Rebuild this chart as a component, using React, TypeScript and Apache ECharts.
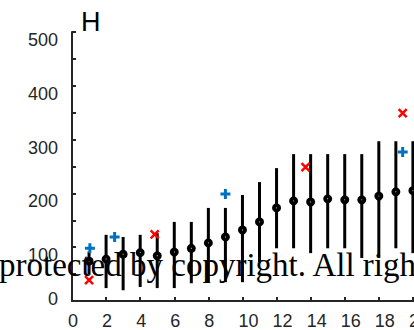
import React, { useEffect, useRef } from "react";
import * as echarts from "echarts";

const xValues = [1, 2, 3, 4, 5, 6, 7, 8, 9, 10, 11, 12, 13, 14, 15, 16, 17, 18, 19, 20];
const means = [74, 78, 87, 90, 84, 91, 98, 108, 119, 132, 147, 173, 186, 184, 190, 188, 188, 195, 203, 205];
const lows = [50, 24, 20, 26, 24, 24, 33, 35, 35, 35, 72, 98, 98, 89, 98, 98, 80, 80, 98, 89];
const highs = [92, 123, 119, 123, 126, 147, 147, 173, 173, 197, 221, 247, 273, 273, 273, 273, 273, 297, 297, 297];
const redPoints = [[1, 39], [4.85, 124], [13.7, 249], [19.4, 349]];
const bluePoints = [[1.05, 98], [2.5, 119], [9.0, 199], [19.4, 277]];
const title = "H";
const watermark = "protected by copyright. All rights reserved.";

const AXIS = "#262626";

export default function App() {
  const ref = useRef<HTMLDivElement>(null);
  useEffect(() => {
    if (!ref.current) return;
    const chart = echarts.init(ref.current, null, { renderer: "svg" });
    const errData = xValues.map((x, i) => [x, lows[i], highs[i]]);
    chart.setOption({
      animation: false,
      backgroundColor: "#ffffff",
      grid: { left: 72, top: 32, width: 375, height: 269, containLabel: false, outerBoundsMode: "none" },
      xAxis: {
        type: "value",
        min: 0,
        max: 22,
        interval: 2,
        axisLine: { show: true, lineStyle: { color: AXIS, width: 2 } },
        axisTick: { show: true, inside: true, length: 4, lineStyle: { color: AXIS, width: 2 } },
        axisLabel: {
          color: AXIS,
          fontSize: 18,
          margin: 11,
          align: "left",
          padding: [0, 0, 0, -4],
          fontFamily: "Liberation Sans",
          showMaxLabel: true,
          hideOverlap: false,
        },
        splitLine: { show: false },
      },
      yAxis: {
        type: "value",
        min: 0,
        max: 500,
        interval: 100,
        axisLine: { show: true, lineStyle: { color: AXIS, width: 2 } },
        axisTick: { show: true, inside: true, length: 4, lineStyle: { color: AXIS, width: 2 } },
        minorTick: { show: true, splitNumber: 2, length: 4, lineStyle: { color: AXIS, width: 2 } },
        axisLabel: {
          color: AXIS,
          fontSize: 18,
          margin: 14,
          fontFamily: "Liberation Sans",
          formatter: (v: number) => (v === 0 ? `{z|0}` : `{a|${v}}`),
          rich: {
            a: { fontSize: 18, color: AXIS, fontFamily: "Liberation Sans", padding: [16, 0, 0, 0] },
            z: { fontSize: 18, color: AXIS, fontFamily: "Liberation Sans", padding: [0, 0, 4, 0] },
          },
        },
        splitLine: { show: false },
      },
      series: [
        {
          type: "custom",
          data: errData,
          renderItem: (params: any, api: any) => {
            const x = api.value(0);
            const p1 = api.coord([x, api.value(1)]);
            const p2 = api.coord([x, api.value(2)]);
            return {
              type: "line",
              shape: { x1: p1[0], y1: p1[1], x2: p2[0], y2: p2[1] },
              style: { stroke: "#000000", lineWidth: 3 },
            };
          },
          z: 2,
        },
        {
          type: "scatter",
          data: xValues.map((x, i) => [x, means[i]]),
          symbol: "circle",
          symbolSize: 5,
          itemStyle: { color: "#ffffff", borderColor: "#000000", borderWidth: 4, opacity: 1 },
          z: 3,
        },
        {
          type: "scatter",
          data: redPoints,
          symbol: "path://M0,0L10,10M10,0L0,10",
          symbolSize: 8,
          itemStyle: { color: "none", borderColor: "#ff0000", borderWidth: 2.5, opacity: 1 },
          z: 4,
        },
        {
          type: "scatter",
          data: bluePoints,
          symbol: "path://M5,0L5,10M0,5L10,5",
          symbolSize: 10,
          itemStyle: { color: "none", borderColor: "#0072bd", borderWidth: 3, opacity: 1 },
          z: 4,
        },
      ],
      graphic: [
        {
          type: "text",
          left: 81,
          top: 8,
          z: 10,
          style: { text: title, fontSize: 27, fill: "#000000", fontFamily: "Liberation Sans" },
        },
        {
          type: "text",
          x: -1,
          y: 265,
          z: 100,
          style: {
            text: watermark,
            fontSize: 33,
            fill: "#000000",
            fontFamily: "Liberation Serif",
            verticalAlign: "middle",
            align: "left",
          },
        },
      ],
    });
    return () => chart.dispose();
  }, []);
  return (
    <div style={{ position: "absolute", left: 0, top: 0, width: 414, height: 330, overflow: "hidden" }}>
      <div ref={ref} style={{ width: 414, height: 330 }} />
    </div>
  );
}
